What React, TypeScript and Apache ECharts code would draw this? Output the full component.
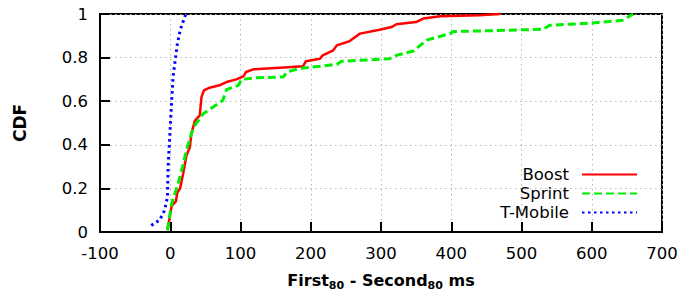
import React, { useEffect, useRef } from "react";
import * as echarts from "echarts";

const xTicks = [-100, 0, 100, 200, 300, 400, 500, 600, 700];
const yTicks = [0, 0.2, 0.4, 0.6, 0.8, 1];

const boostX = [-4, 2, 8, 10, 14, 18.5, 23, 28, 30, 35, 42, 44.5, 48, 56, 70, 80, 94, 104, 108, 118, 156, 189, 193, 213, 217, 232, 237, 255, 270, 298, 315, 322, 350, 360, 384, 440, 470];
const boostY = [0.008, 0.12, 0.14, 0.18, 0.2, 0.27, 0.35, 0.39, 0.45, 0.51, 0.535, 0.62, 0.65, 0.662, 0.673, 0.688, 0.7, 0.714, 0.734, 0.746, 0.754, 0.76, 0.783, 0.795, 0.81, 0.833, 0.856, 0.875, 0.91, 0.928, 0.94, 0.953, 0.963, 0.979, 0.99, 0.994, 1.0];

const sprintX = [-4, 2, 11, 17.5, 23, 33, 47, 61, 75, 80, 97, 101.5, 123, 161, 166, 184, 237, 244, 312, 322, 346, 365, 398, 403, 440, 531, 540, 602, 644, 659];
const sprintY = [0.008, 0.13, 0.22, 0.3, 0.375, 0.48, 0.543, 0.573, 0.604, 0.653, 0.673, 0.7, 0.708, 0.711, 0.734, 0.75, 0.769, 0.783, 0.795, 0.81, 0.83, 0.88, 0.91, 0.92, 0.922, 0.93, 0.948, 0.959, 0.971, 1.0];

const tmobileX = [-27, -15, -8, -4, -3, -0.5, 2, 4, 7.5, 10, 14, 21, 22];
const tmobileY = [0.03, 0.055, 0.1, 0.16, 0.3, 0.45, 0.6, 0.71, 0.8, 0.86, 0.925, 0.99, 1.0];

const seriesNames = ["Boost", "Sprint", "T-Mobile"];
const seriesColors = ["#ff0000", "#00ee00", "#0000ff"];

const FONT = "'DejaVu Sans', 'Liberation Sans', Arial, sans-serif";

const zip = (xs: number[], ys: number[]) => xs.map((x, i) => [x, ys[i]]);

export default function App() {
  const ref = useRef<HTMLDivElement>(null);
  useEffect(() => {
    if (!ref.current) return;
    const chart = echarts.init(ref.current, undefined, { renderer: "svg" });
    const dashes: any[] = ["solid", [8, 4], [2.5, 3.5]];
    const widths = [2.5, 3, 3];
    const datasets = [zip(boostX, boostY), zip(sprintX, sprintY), zip(tmobileX, tmobileY)];
    const legendCenters = [174, 193, 212];
    chart.setOption({
      animation: false,
      textStyle: { fontFamily: FONT },
      grid: {
        left: 100,
        right: 18,
        top: 14,
        bottom: 61,
        containLabel: false,
        outerBoundsMode: "none",
        show: true,
        borderColor: "#000",
        borderWidth: 2,
        backgroundColor: "transparent",
      },
      legend: seriesNames.map((n, i) => ({
        data: [n],
        orient: "vertical",
        align: "right",
        right: 42,
        top: legendCenters[i] - 8,
        padding: 0,
        itemWidth: 55,
        itemHeight: 12,
        itemStyle: { opacity: 0 },
        textStyle: { fontSize: 16.5, color: "#000", fontFamily: FONT, padding: [0, 8, 0, 0] },
      })),
      xAxis: {
        type: "value",
        min: xTicks[0],
        max: xTicks[xTicks.length - 1],
        interval: 100,
        axisLine: { show: true, onZero: false, lineStyle: { color: "#000", width: 2 } },
        axisTick: { show: true, inside: true, length: 10, lineStyle: { color: "#000", width: 2 } },
        axisLabel: { fontSize: 16.5, color: "#000", margin: 13, fontFamily: FONT },
        splitLine: { show: true, lineStyle: { color: "#b8b8b8", width: 1, type: [1.5, 3.5] } },
        name: "{b|First}{s|80}{b| - Second}{s|80}{b| ms}",
        nameLocation: "middle",
        nameGap: 40,
        nameTextStyle: {
          rich: {
            b: { fontSize: 16, fontWeight: "bold", color: "#000", fontFamily: FONT, verticalAlign: "top" },
            s: { fontSize: 11, fontWeight: "bold", color: "#000", fontFamily: FONT, verticalAlign: "top", padding: [8, 0, 0, 0] },
          },
        },
      },
      yAxis: {
        type: "value",
        min: yTicks[0],
        max: yTicks[yTicks.length - 1],
        interval: 0.2,
        axisLine: { show: true, onZero: false, lineStyle: { color: "#000", width: 2 } },
        axisTick: { show: true, inside: true, length: 10, lineStyle: { color: "#000", width: 2 } },
        axisLabel: { fontSize: 16.5, color: "#000", margin: 12, fontFamily: FONT },
        splitLine: { show: true, lineStyle: { color: "#b8b8b8", width: 1, type: [1.5, 3.5] } },
        name: "CDF",
        nameLocation: "middle",
        nameRotate: 90,
        nameGap: 72,
        nameTextStyle: { fontSize: 17, fontWeight: "bold", color: "#000", fontFamily: FONT },
      },
      series: seriesNames.map((n, i) => ({
        name: n,
        type: "line",
        data: datasets[i],
        symbol: "none",
        showSymbol: false,
        clip: false,
        lineStyle: { color: seriesColors[i], width: widths[i], type: dashes[i] },
        itemStyle: { color: seriesColors[i] },
      })),
    });
    return () => chart.dispose();
  }, []);
  return <div ref={ref} style={{ width: 680, height: 293, position: "absolute", left: 0, top: 0 }} />;
}
